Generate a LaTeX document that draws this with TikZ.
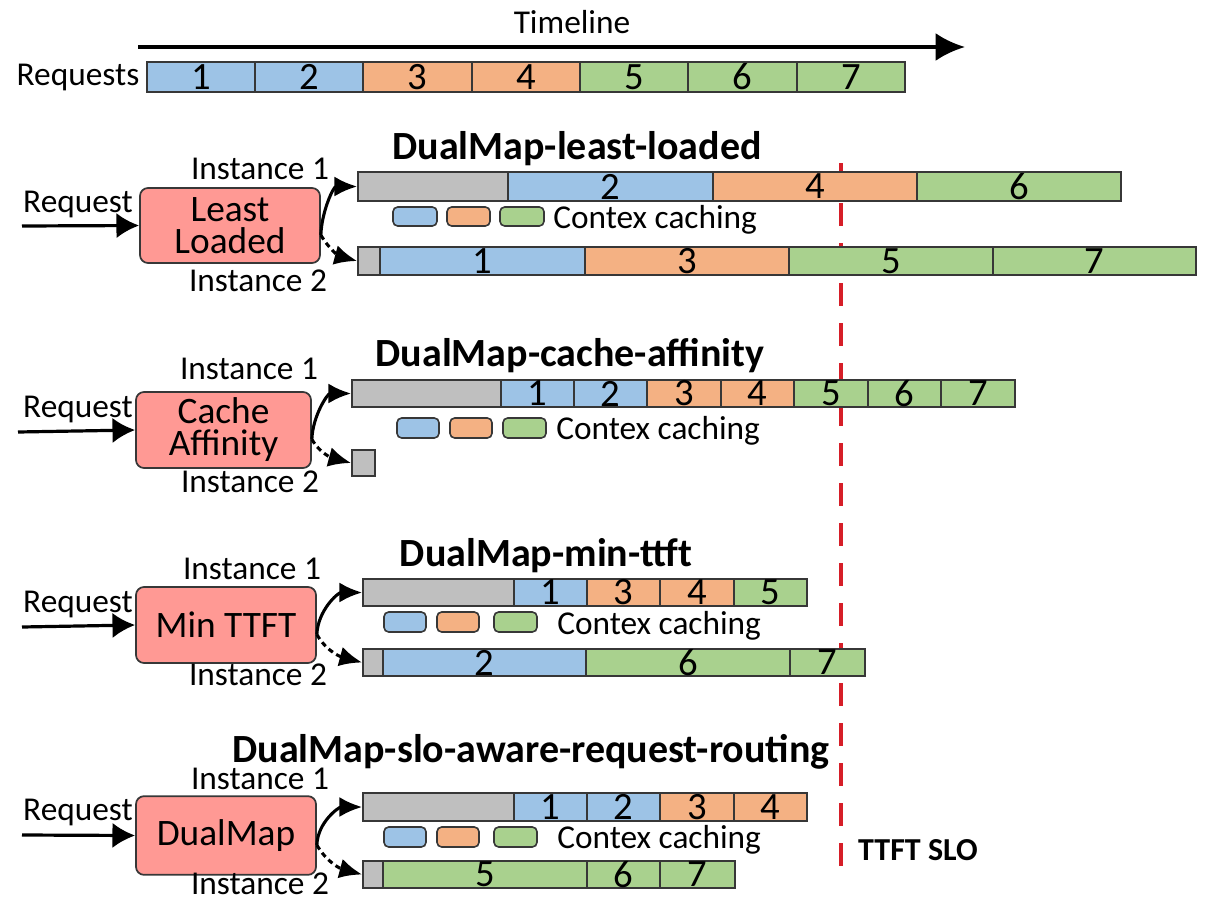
\documentclass[tikz,border=0pt]{standalone}
\usepackage{fontspec}
\setmainfont{Carlito}
\usetikzlibrary{arrows.meta}
\definecolor{cblue}{RGB}{157,195,230}
\definecolor{corange}{RGB}{244,177,131}
\definecolor{cgreen}{RGB}{169,209,142}
\definecolor{cgray}{RGB}{191,191,191}
\definecolor{csalmon}{RGB}{255,153,148}
\definecolor{cedge}{RGB}{55,55,55}
\definecolor{cred}{RGB}{214,30,40}
\newcommand\segm[7]{\node[segbox,fill=#6,minimum width={(#3-#2)*0.75pt},minimum height={(#5-#4)*0.75pt}] (#1) at ({(#2+#3)/2},{(#4+#5)/2}) {#7};}
\newcommand\lgb[6]{\node[lgbox,fill=#6,minimum width={(#3-#2)*0.75pt},minimum height={(#5-#4)*0.75pt}] (#1) at ({(#2+#3)/2},{(#4+#5)/2}) {};}
\tikzset{
  segbox/.style={draw=cedge, line width=1.3pt, inner sep=0pt, font=\fontsize{29}{29}\selectfont},
  lgbox/.style={draw=cedge, line width=1.2pt, rounded corners=3.5pt, inner sep=0pt},
  algo/.style={draw=cedge, fill=csalmon, line width=1.3pt, rounded corners=6pt, align=center, font=\fontsize{28}{24}\selectfont, inner sep=0pt},
  lbl/.style={font=\fontsize{25}{27}\selectfont, inner sep=0pt},
  ttl/.style={font=\bfseries\fontsize{30}{32}\selectfont, inner sep=0pt},
  inarrow/.style={line width=2.4pt, -{Latex[length=17pt,width=19pt]}},
  conn/.style={line width=2.3pt, -{Latex[length=17pt,width=15pt]}},
  dconn/.style={conn, dash pattern=on 4pt off 3pt},
}
\begin{document}
\begin{tikzpicture}[x=0.75pt,y=-0.75pt]
\useasboundingbox (0,0) rectangle (1208,900);
% ---- timeline ----
\node[lbl] (tl) at (572,22) {Timeline};
\coordinate (tla) at (138,47);
\coordinate (tlb) at (965,47);
\draw[line width=3pt, -{Latex[length=22pt,width=21pt]}] (tla) -- (tlb);
\node[lbl] (req) at (78,77) {Requests};
\segm{r1}{147}{255}{62}{92}{cblue}{1}
\segm{r2}{255}{363}{62}{92}{cblue}{2}
\segm{r3}{363}{472}{62}{92}{corange}{3}
\segm{r4}{472}{580}{62}{92}{corange}{4}
\segm{r5}{580}{688}{62}{92}{cgreen}{5}
\segm{r6}{688}{797}{62}{92}{cgreen}{6}
\segm{r7}{797}{905}{62}{92}{cgreen}{7}
% ---- TTFT SLO ----
\coordinate (sloa) at (841,163);
\coordinate (slob) at (841,866);
\draw[cred, line width=2.4pt, dash pattern=on 17pt off 13pt] (sloa) -- (slob);
\node[font=\bfseries\fontsize{24}{26}\selectfont, inner sep=0pt] (slo) at (918,850) {TTFT SLO};
% ---- section 1 ----
\node[ttl] (t1) at (577,149) {DualMap-least-loaded};
\node[lbl] (q1) at (78,204) {Request};
\coordinate (q1s) at (22,226);
\node[algo, minimum width=135pt, minimum height=56.25pt] (a1) at (230,225.5) {Least\\Loaded};
\draw[inarrow] (q1s) -- (a1.west);
\node[lbl] (i11) at (260,169) {Instance 1};
\node[lbl] (i12) at (258,281) {Instance 2};
\segm{s1a}{358}{508}{172}{201}{cgray}{}
\segm{s1b}{508}{713}{172}{201}{cblue}{2}
\segm{s1c}{713}{917}{172}{201}{corange}{4}
\segm{s1d}{917}{1121}{172}{201}{cgreen}{6}
\segm{s1e}{358}{380}{247}{275}{cgray}{}
\segm{s1f}{380}{585}{247}{275}{cblue}{1}
\segm{s1g}{585}{789}{247}{275}{corange}{3}
\segm{s1h}{789}{993}{247}{275}{cgreen}{5}
\segm{s1i}{993}{1196}{247}{275}{cgreen}{7}
\lgb{l1a}{393}{437}{207}{226}{cblue}
\lgb{l1b}{447}{490}{207}{226}{corange}
\lgb{l1c}{500}{544}{207}{226}{cgreen}
\node[lbl, anchor=west] (c1) at (553,220) {Contex caching};
\draw[conn] (a1.-6) to[out=88,in=180] (s1a.west);
\draw[dconn] (a1.-6) to[out=-60,in=165] (s1e.west);
% ---- section 2 ----
\node[ttl] (t2) at (570,356) {DualMap-cache-affinity};
\node[lbl] (q2) at (78,409) {Request};
\coordinate (q2s) at (18,432);
\node[algo, minimum width=131.25pt, minimum height=57pt] (a2) at (223.5,430) {Cache\\Affinity};
\draw[inarrow] (q2s) -- (a2.west);
\node[lbl] (i21) at (249,369) {Instance 1};
\node[lbl] (i22) at (250,482) {Instance 2};
\segm{s2a}{352}{501}{380}{407}{cgray}{}
\segm{s2b}{501}{574}{380}{407}{cblue}{1}
\segm{s2c}{574}{647}{380}{407}{cblue}{2}
\segm{s2d}{647}{721}{380}{407}{corange}{3}
\segm{s2e}{721}{794}{380}{407}{corange}{4}
\segm{s2f}{794}{868}{380}{407}{cgreen}{5}
\segm{s2g}{868}{941}{380}{407}{cgreen}{6}
\segm{s2h}{941}{1015}{380}{407}{cgreen}{7}
\segm{s2i}{352}{375}{450}{476}{cgray}{}
\lgb{l2a}{397}{439}{418}{438}{cblue}
\lgb{l2b}{450}{492}{418}{438}{corange}
\lgb{l2c}{503}{546}{418}{438}{cgreen}
\node[lbl, anchor=west] (c2) at (556,431) {Contex caching};
\draw[conn] (a2.-6) to[out=88,in=180] (s2a.west);
\draw[dconn] (a2.-6) to[out=-60,in=165] (s2i.west);
% ---- section 3 ----
\node[ttl] (t3) at (546,556) {DualMap-min-ttft};
\node[lbl] (q3) at (78,604) {Request};
\coordinate (q3s) at (22,627);
\node[algo, minimum width=135pt, minimum height=57pt] (a3) at (226,625) {Min TTFT};
\draw[inarrow] (q3s) -- (a3.west);
\node[lbl] (i31) at (252,569) {Instance 1};
\node[lbl] (i32) at (258,675) {Instance 2};
\segm{s3a}{363}{514}{579}{606}{cgray}{}
\segm{s3b}{514}{587}{579}{606}{cblue}{1}
\segm{s3c}{587}{660}{579}{606}{corange}{3}
\segm{s3d}{660}{734}{579}{606}{corange}{4}
\segm{s3e}{734}{807}{579}{606}{cgreen}{5}
\segm{s3f}{363}{383}{649}{676}{cgray}{}
\segm{s3g}{383}{586}{649}{676}{cblue}{2}
\segm{s3h}{586}{790}{649}{676}{cgreen}{6}
\segm{s3i}{790}{865}{649}{676}{cgreen}{7}
\lgb{l3a}{384}{426}{612}{632}{cblue}
\lgb{l3b}{437}{479}{612}{632}{corange}
\lgb{l3c}{494}{537}{612}{632}{cgreen}
\node[lbl, anchor=west] (c3) at (557,626) {Contex caching};
\draw[conn] (a3.-6) to[out=88,in=180] (s3a.west);
\draw[dconn] (a3.-6) to[out=-60,in=165] (s3f.west);
% ---- section 4 ----
\node[ttl] (t4) at (531,752) {DualMap-slo-aware-request-routing};
\node[lbl] (q4) at (78,812) {Request};
\coordinate (q4s) at (22,835);
\node[algo, minimum width=135pt, minimum height=59pt] (a4) at (226,835.5) {DualMap};
\draw[inarrow] (q4s) -- (a4.west);
\node[lbl] (i41) at (260,779) {Instance 1};
\node[lbl] (i42) at (260,884) {Instance 2};
\segm{s4a}{363}{514}{793}{821}{cgray}{}
\segm{s4b}{514}{587}{793}{821}{cblue}{1}
\segm{s4c}{587}{660}{793}{821}{cblue}{2}
\segm{s4d}{660}{734}{793}{821}{corange}{3}
\segm{s4e}{734}{807}{793}{821}{corange}{4}
\segm{s4f}{363}{383}{861}{888}{cgray}{}
\segm{s4g}{383}{587}{861}{888}{cgreen}{5}
\segm{s4h}{587}{660}{861}{888}{cgreen}{6}
\segm{s4i}{660}{735}{861}{888}{cgreen}{7}
\lgb{l4a}{384}{426}{827}{847}{cblue}
\lgb{l4b}{437}{479}{827}{847}{corange}
\lgb{l4c}{494}{537}{827}{847}{cgreen}
\node[lbl, anchor=west] (c4) at (557,840) {Contex caching};
\draw[conn] (a4.-6) to[out=88,in=180] (s4a.west);
\draw[dconn] (a4.-6) to[out=-60,in=165] (s4f.west);
\end{tikzpicture}
\end{document}
